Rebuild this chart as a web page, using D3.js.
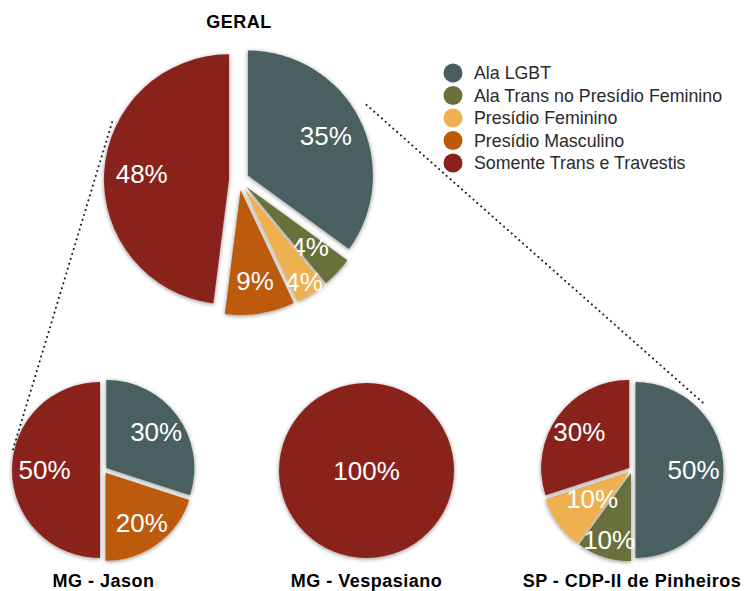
<!DOCTYPE html>
<html>
<head>
<meta charset="utf-8">
<script src="https://cdn.jsdelivr.net/npm/d3@7"></script>
<style>
  body { margin: 0; background: #fff; }
  svg { display: block; font-family: "Helvetica Neue", Helvetica, "Liberation Sans", Arial, sans-serif; }
</style>
</head>
<body>
<script>
// categories and colours (legend order)
var categories = ["Ala LGBT", "Ala Trans no Presídio Feminino", "Presídio Feminino", "Presídio Masculino", "Somente Trans e Travestis"];
var colors = ["#4a5e61", "#6a703a", "#efb04f", "#bc5a09", "#8a221b"];

// percentage per category, for each pie
var geralValues = [35, 4, 4, 9, 48];
var jasonValues = [30, 0, 0, 20, 50];
var vespasianoValues = [0, 0, 0, 0, 100];
var pinheirosValues = [50, 10, 10, 0, 30];
var pieTitles = ["GERAL", "MG - Jason", "MG - Vespasiano", "SP - CDP-II de Pinheiros"];

var width = 744, height = 591;

var svg = d3.select("body").append("svg")
  .attr("width", width)
  .attr("height", height);

// soft shadow round the slices
var defs = svg.append("defs");
defs.append("filter")
  .attr("id", "shadow")
  .attr("x", "-20%").attr("y", "-20%")
  .attr("width", "140%").attr("height", "140%")
  .append("feDropShadow")
  .attr("dx", 0).attr("dy", 1)
  .attr("stdDeviation", 2.2)
  .attr("flood-color", "#000")
  .attr("flood-opacity", 0.45);

var color = d3.scaleOrdinal().domain(categories).range(colors);

// pie layouts: centre, radius, explode distance, label radius tweaks
var pies = [
  {title: pieTitles[0], values: geralValues, cx: 239, cy: 180, r: 125, explode: 10, titleY: 28,
   labelR: {"Presídio Feminino": 0.89, "Presídio Masculino": 0.74}},
  {title: pieTitles[1], values: jasonValues, cx: 103.5, cy: 470, r: 88, explode: 3.5, titleY: 587,
   labelR: {"Somente Trans e Travestis": 0.63}},
  {title: pieTitles[2], values: vespasianoValues, cx: 366.5, cy: 470.5, r: 87.5, explode: 0, titleY: 587, labelR: {}},
  {title: pieTitles[3], values: pinheirosValues, cx: 632, cy: 470, r: 88, explode: 3.5, titleY: 587,
   labelR: {"Presídio Feminino": 0.52, "Ala Trans no Presídio Feminino": 0.8, "Ala LGBT": 0.66}}
];

function polar(p, angleDeg, dist) {
  var a = angleDeg * Math.PI / 180;
  return [p.cx + dist * Math.sin(a), p.cy - dist * Math.cos(a)];
}

// dotted connectors from the main pie down to the side pies (behind the pies)
var connectors = [
  [polar(pies[0], 294.5, 139.5), polar(pies[1], 281, 93)],
  [polar(pies[0], 59.5, 148), polar(pies[3], 48, 98)]
];
svg.selectAll(".connector")
  .data(connectors)
  .enter()
  .append("line")
  .attr("class", "connector")
  .attr("x1", function(d){ return d[0][0]; })
  .attr("y1", function(d){ return d[0][1]; })
  .attr("x2", function(d){ return d[1][0]; })
  .attr("y2", function(d){ return d[1][1]; })
  .attr("stroke", "#1a1a1a")
  .attr("stroke-width", 2)
  .attr("stroke-linecap", "round")
  .attr("stroke-dasharray", "0.1 5");

var pie = d3.pie().sort(null).value(function(d){ return d.value; });

pies.forEach(function(p){
  var data = categories.map(function(c, i){ return {cat: c, value: p.values[i]}; })
    .filter(function(d){ return d.value > 0; });
  var arcs = pie(data);
  var arc = d3.arc().innerRadius(0).outerRadius(p.r);

  var g = svg.append("g").attr("transform", "translate(" + p.cx + "," + p.cy + ")");

  var slices = g.selectAll(".slice")
    .data(arcs)
    .enter()
    .append("g")
    .attr("class", "slice")
    .attr("transform", function(d){
      if (arcs.length === 1) return null;
      var mid = (d.startAngle + d.endAngle) / 2;
      return "translate(" + (p.explode * Math.sin(mid)) + "," + (-p.explode * Math.cos(mid)) + ")";
    });

  slices.append("path")
    .attr("d", arc)
    .attr("fill", function(d){ return color(d.data.cat); })
    .attr("filter", "url(#shadow)");

  slices.append("text")
    .attr("transform", function(d){
      var mid = (d.startAngle + d.endAngle) / 2;
      var k = arcs.length === 1 ? 0 : (p.labelR[d.data.cat] || 0.7);
      return "translate(" + (k * p.r * Math.sin(mid)) + "," + (-k * p.r * Math.cos(mid)) + ")";
    })
    .attr("text-anchor", "middle")
    .attr("dy", "0.35em")
    .attr("fill", "#fff")
    .style("font-size", "26px")
    .text(function(d){ return d.data.value + "%"; });

  svg.append("text")
    .attr("x", p.cx)
    .attr("y", p.titleY)
    .attr("text-anchor", "middle")
    .style("font-size", "18px")
    .style("font-weight", "bold")
    .style("letter-spacing", "0.5px")
    .attr("fill", "#000")
    .text(p.title);
});

// legend
var legend = svg.append("g").attr("transform", "translate(453,73)");
var rows = legend.selectAll(".row")
  .data(categories)
  .enter()
  .append("g")
  .attr("class", "row")
  .attr("transform", function(d, i){ return "translate(0," + (i * 22.5) + ")"; });
rows.append("circle")
  .attr("r", 9.5)
  .attr("fill", function(d){ return color(d); });
rows.append("text")
  .attr("x", 21)
  .attr("dy", "0.35em")
  .style("font-size", "17.8px")
  .attr("fill", "#2a2a2a")
  .text(function(d){ return d; });
</script>
</body>
</html>
